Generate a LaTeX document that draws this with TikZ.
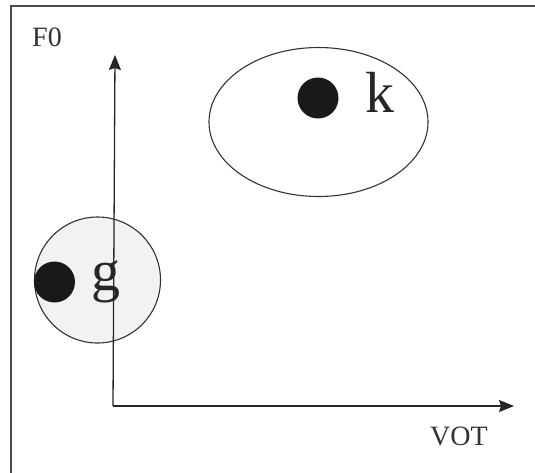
\documentclass[tikz,border=0pt]{standalone}
\usepackage{fontspec}
\setmainfont{Liberation Serif}
\usetikzlibrary{arrows.meta,shapes.geometric}
\tikzset{
  axis/.style={line width=1.3pt, black!85, -{Stealth[length=15pt,width=12pt,inset=2pt]}},
  region/.style={draw, line width=1.1pt, black!80},
  dotmark/.style={circle, fill=black!90, minimum size=41pt, inner sep=0pt},
  big/.style={font=\fontsize{58}{58}\selectfont, inner sep=0pt, black!85},
  lab/.style={font=\fontsize{28}{28}\selectfont, inner sep=0pt, black!80},
}
\begin{document}
\begin{tikzpicture}[x=1pt,y=-1pt]
\useasboundingbox (0,0) rectangle (535,472);
\clip (0,0) rectangle (535,472);
\fill[white] (0,0) rectangle (535,472);
\draw[line width=1.5pt, black!70] (11,6) rectangle (600,540);
% regions
\node[region, ellipse, minimum width=219pt, minimum height=149pt, inner sep=0pt] (kreg) at (318.5,122) {};
\node[region, circle, fill=black!5, minimum size=126pt, inner sep=0pt] (greg) at (97.5,280) {};
% axes
\coordinate (orig) at (113,406);
\coordinate (ytip) at (115,55);
\coordinate (xtip) at (514,406);
\draw[axis] (orig) -- (ytip);
\draw[axis] (orig) -- (xtip);
% dots and letters
\node[dotmark] (kdot) at (318,98) {};
\node[big, anchor=base] (klet) at (380,112) {k};
\node[dotmark] (gdot) at (54.5,282) {};
\node[big, anchor=base] (glet) at (106,290) {g};
% labels
\node[lab, anchor=base] (f0) at (47,46) {F0};
\node[lab, anchor=base] (vot) at (459,445) {VOT};
\end{tikzpicture}
\end{document}
